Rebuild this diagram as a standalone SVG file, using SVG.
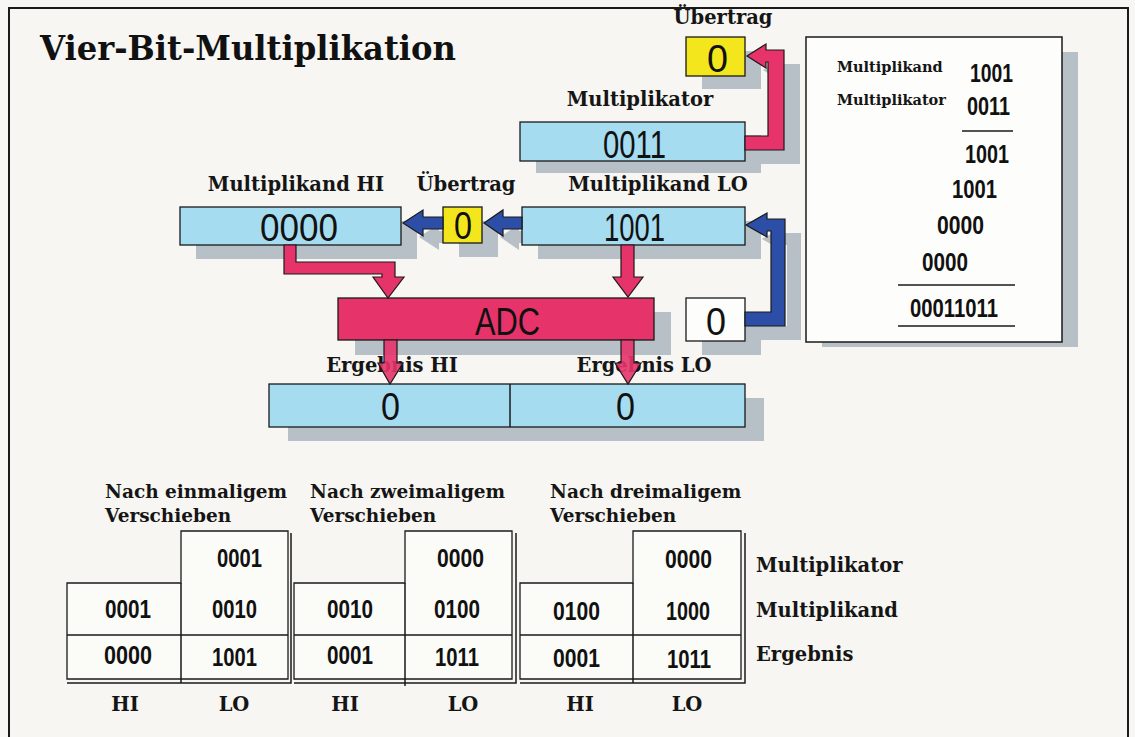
<svg xmlns="http://www.w3.org/2000/svg" width="1135" height="737" viewBox="0 0 1135 737">
<style>
.ttl{font-family:"DejaVu Serif",serif;font-weight:bold;font-size:33px;fill:#111}
.lbl{font-family:"DejaVu Serif",serif;font-weight:bold;font-size:19.5px;fill:#151515}
.hd{font-family:"DejaVu Serif",serif;font-weight:bold;font-size:18.5px;fill:#151515}
.sm{font-family:"DejaVu Serif",serif;font-weight:bold;font-size:14.5px;fill:#151515}
.reg{font-family:"Liberation Sans",Arial,sans-serif;font-size:38px;fill:#111}
.num{font-family:"Liberation Sans",Arial,sans-serif;font-weight:bold;font-size:25px;fill:#111}
.box{stroke:#1a1a1a;stroke-width:1.3}
.blue{fill:#a6dcef}
.yel{fill:#f4e61c}
.pink{fill:#e6336a;stroke:#1a1a1a;stroke-width:1.2}
.barr{fill:#2d4ea6;stroke:#1a1a1a;stroke-width:1.2}
.shd{fill:#b7bfc7}
.tbl{fill:#fbfbf8;stroke:#1a1a1a;stroke-width:1.3}
.ln{stroke:#1a1a1a;stroke-width:1.5}
</style>
<rect x="0" y="0" width="1135" height="737" fill="#f7f6f2"/>
<rect x="9" y="8" width="1119" height="740" fill="none" stroke="#1a1a1a" stroke-width="2"/>
<text class="ttl" x="40" y="60" textLength="416" lengthAdjust="spacingAndGlyphs">Vier-Bit-Multiplikation</text>

<!-- shadows -->
<g id="shadows">
<rect class="shd" x="702" y="51" width="59" height="38"/>
<rect class="shd" x="536" y="135" width="225" height="38"/>
<rect class="shd" x="196" y="221" width="221" height="38"/>
<rect class="shd" x="459" y="221" width="39" height="36"/>
<rect class="shd" x="538" y="221" width="223" height="38"/>
<rect class="shd" x="355" y="312" width="316" height="43"/>
<rect class="shd" x="702" y="312" width="59" height="43"/>
<rect class="shd" x="288" y="398" width="476" height="43"/>
<rect class="shd" x="822" y="52" width="256" height="295"/>
<path class="shd" d="M761,150 L784,150 L784,76 L782,76 L782,82 L763,70 L782,58 L782,64 L800,64 L800,164 L761,164 Z"/>
<path class="shd" d="M761,326 L787,326 L787,245 L783,245 L783,251 L762,239 L783,227 L783,233 L801,233 L801,340 L761,340 Z"/>
<path class="shd" d="M459,231 L439,231 L439,224 L419,237 L439,250 L439,243 L459,243 Z"/>
<path class="shd" d="M538,231 L519,231 L519,224 L500,237 L519,250 L519,243 L538,243 Z"/>
</g>

<!-- labels -->
<g id="labels">
<text class="lbl" x="723" y="24" text-anchor="middle">Übertrag</text>
<text class="lbl" x="640" y="106" text-anchor="middle">Multiplikator</text>
<text class="lbl" x="296" y="191" text-anchor="middle">Multiplikand HI</text>
<text class="lbl" x="466" y="191" text-anchor="middle">Übertrag</text>
<text class="lbl" x="658" y="191" text-anchor="middle">Multiplikand LO</text>
<text class="lbl" x="392" y="372" text-anchor="middle">Ergebnis HI</text>
<text class="lbl" x="644" y="372" text-anchor="middle">Ergebnis LO</text>
</g>

<g id="carry-top">
<rect class="box yel" x="686" y="37" width="59" height="39"/>
<text class="reg" x="707" y="72" font-size="40" textLength="21" lengthAdjust="spacingAndGlyphs">0</text>
</g>
<g id="multiplikator">
<rect class="box blue" x="520" y="122" width="225" height="39"/>
<text class="reg" x="603" y="158" textLength="63" lengthAdjust="spacingAndGlyphs">0011</text>
</g>
<g id="multiplikand-hi">
<rect class="box blue" x="180" y="207" width="221" height="38"/>
<text class="reg" x="260" y="241" textLength="78" lengthAdjust="spacingAndGlyphs">0000</text>
</g>
<g id="carry-mid">
<rect class="box yel" x="443" y="207" width="39" height="36"/>
<text class="reg" x="454" y="239" font-size="36" textLength="18" lengthAdjust="spacingAndGlyphs">0</text>
</g>
<g id="multiplikand-lo">
<rect class="box blue" x="522" y="207" width="223" height="38"/>
<text class="reg" x="604" y="241" textLength="61" lengthAdjust="spacingAndGlyphs">1001</text>
</g>
<g id="adc">
<rect class="box" fill="#e6336a" x="338" y="298" width="316" height="42"/>
<text class="reg" x="475" y="335" font-size="36" textLength="65" lengthAdjust="spacingAndGlyphs">ADC</text>
</g>
<g id="zero-in">
<rect class="box" fill="#fdfdfb" x="686" y="298" width="59" height="43"/>
<text class="reg" x="706" y="335" textLength="20" lengthAdjust="spacingAndGlyphs">0</text>
</g>
<g id="ergebnis">
<rect class="box blue" x="269" y="384" width="476" height="43"/>
<line class="ln" x1="510" y1="384" x2="510" y2="427" stroke-width="1.2"/>
<text class="reg" x="381" y="420" textLength="19" lengthAdjust="spacingAndGlyphs">0</text>
<text class="reg" x="616" y="420" textLength="19" lengthAdjust="spacingAndGlyphs">0</text>
</g>

<!-- connectors -->
<g id="connectors">
<path class="pink" d="M745,136 L768,136 L768,62 L766,62 L766,68 L747,56 L766,44 L766,50 L784,50 L784,150 L745,150 Z"/>
<path class="barr" d="M745,312 L771,312 L771,231 L767,231 L767,237 L746,225 L767,213 L767,219 L785,219 L785,326 L745,326 Z"/>
<path class="barr" d="M443,217 L423,217 L423,210 L403,223 L423,236 L423,229 L443,229 Z"/>
<path class="barr" d="M522,217 L503,217 L503,210 L484,223 L503,236 L503,229 L522,229 Z"/>
<path class="pink" d="M284,245 L296,245 L296,262 L395,262 L395,277 L404,277 L388,298 L373,277 L382,277 L382,274 L284,274 Z"/>
<path class="pink" d="M621,245 L634,245 L634,277 L643,277 L628,297 L613,277 L621,277 Z"/>
<path class="pink" d="M384,340 L397,340 L397,363 L403,363 L390,384 L378,363 L384,363 Z" fill-opacity="0.9"/>
<path class="pink" d="M621,340 L634,340 L634,363 L641,363 L628,384 L615,363 L621,363 Z" fill-opacity="0.9"/>
</g>

<!-- calculation panel -->
<g id="panel">
<rect x="806" y="37" width="256" height="305" fill="#fdfdfb" stroke="#1a1a1a" stroke-width="1.5"/>
<text class="sm" x="837" y="72">Multiplikand</text>
<text class="num" x="970" y="82" font-size="26" textLength="43" lengthAdjust="spacingAndGlyphs">1001</text>
<text class="sm" x="837" y="105">Multiplikator</text>
<text class="num" x="967" y="115" font-size="26" textLength="43" lengthAdjust="spacingAndGlyphs">0011</text>
<line class="ln" x1="962" y1="131" x2="1013" y2="131"/>
<text class="num" x="965" y="163" font-size="26" textLength="44" lengthAdjust="spacingAndGlyphs">1001</text>
<text class="num" x="952" y="198" font-size="26" textLength="45" lengthAdjust="spacingAndGlyphs">1001</text>
<text class="num" x="937" y="234" font-size="26" textLength="47" lengthAdjust="spacingAndGlyphs">0000</text>
<text class="num" x="922" y="271" font-size="26" textLength="46" lengthAdjust="spacingAndGlyphs">0000</text>
<line class="ln" x1="898" y1="285" x2="1015" y2="285"/>
<text class="num" x="910" y="317" font-size="26" textLength="88" lengthAdjust="spacingAndGlyphs">00011011</text>
<line class="ln" x1="898" y1="326" x2="1015" y2="326"/>
</g>

<!-- bottom tables -->
<g id="table-1">
<text class="hd" x="105" y="498">Nach einmaligem</text>
<text class="hd" x="105" y="522">Verschieben</text>
<path class="ln" fill="none" d="M291,533 L291,683 L67,683"/>
<path class="tbl" d="M181,531 L288,531 L288,679 L67,679 L67,583 L181,583 Z"/>
<path class="ln" fill="none" d="M181,583 L181,683 M67,635 L288,635"/>
<text class="num" x="217" y="567" textLength="45" lengthAdjust="spacingAndGlyphs">0001</text>
<text class="num" x="105" y="618" textLength="46" lengthAdjust="spacingAndGlyphs">0001</text>
<text class="num" x="212" y="618" textLength="45" lengthAdjust="spacingAndGlyphs">0010</text>
<text class="num" x="104" y="664" textLength="48" lengthAdjust="spacingAndGlyphs">0000</text>
<text class="num" x="212" y="666" textLength="45" lengthAdjust="spacingAndGlyphs">1001</text>
<text class="lbl" x="125" y="711" text-anchor="middle">HI</text>
<text class="lbl" x="234" y="711" text-anchor="middle">LO</text>
</g>
<g id="table-2">
<text class="hd" x="310" y="498">Nach zweimaligem</text>
<text class="hd" x="310" y="522">Verschieben</text>
<path class="ln" fill="none" d="M516,533 L516,683 L294,683"/>
<path class="tbl" d="M405,531 L512,531 L512,679 L294,679 L294,583 L405,583 Z"/>
<path class="ln" fill="none" d="M405,583 L405,686 M294,635 L512,635"/>
<text class="num" x="437" y="567" textLength="47" lengthAdjust="spacingAndGlyphs">0000</text>
<text class="num" x="327" y="618" textLength="46" lengthAdjust="spacingAndGlyphs">0010</text>
<text class="num" x="434" y="618" textLength="46" lengthAdjust="spacingAndGlyphs">0100</text>
<text class="num" x="327" y="664" textLength="46" lengthAdjust="spacingAndGlyphs">0001</text>
<text class="num" x="435" y="666" textLength="44" lengthAdjust="spacingAndGlyphs">1011</text>
<text class="lbl" x="345" y="711" text-anchor="middle">HI</text>
<text class="lbl" x="463" y="711" text-anchor="middle">LO</text>
</g>
<g id="table-3">
<text class="hd" x="550" y="498">Nach dreimaligem</text>
<text class="hd" x="550" y="522">Verschieben</text>
<path class="ln" fill="none" d="M745,533 L745,683 L520,683"/>
<path class="tbl" d="M633,531 L741,531 L741,679 L520,679 L520,583 L633,583 Z"/>
<path class="ln" fill="none" d="M633,583 L633,683 M520,635 L741,635"/>
<text class="num" x="665" y="568" textLength="47" lengthAdjust="spacingAndGlyphs">0000</text>
<text class="num" x="553" y="620" textLength="47" lengthAdjust="spacingAndGlyphs">0100</text>
<text class="num" x="666" y="620" textLength="44" lengthAdjust="spacingAndGlyphs">1000</text>
<text class="num" x="553" y="667" textLength="47" lengthAdjust="spacingAndGlyphs">0001</text>
<text class="num" x="667" y="668" textLength="44" lengthAdjust="spacingAndGlyphs">1011</text>
<text class="lbl" x="580" y="711" text-anchor="middle">HI</text>
<text class="lbl" x="687" y="711" text-anchor="middle">LO</text>
</g>
<g id="row-labels">
<text class="lbl" x="756" y="572">Multiplikator</text>
<text class="lbl" x="756" y="617">Multiplikand</text>
<text class="lbl" x="756" y="661">Ergebnis</text>
</g>
</svg>
